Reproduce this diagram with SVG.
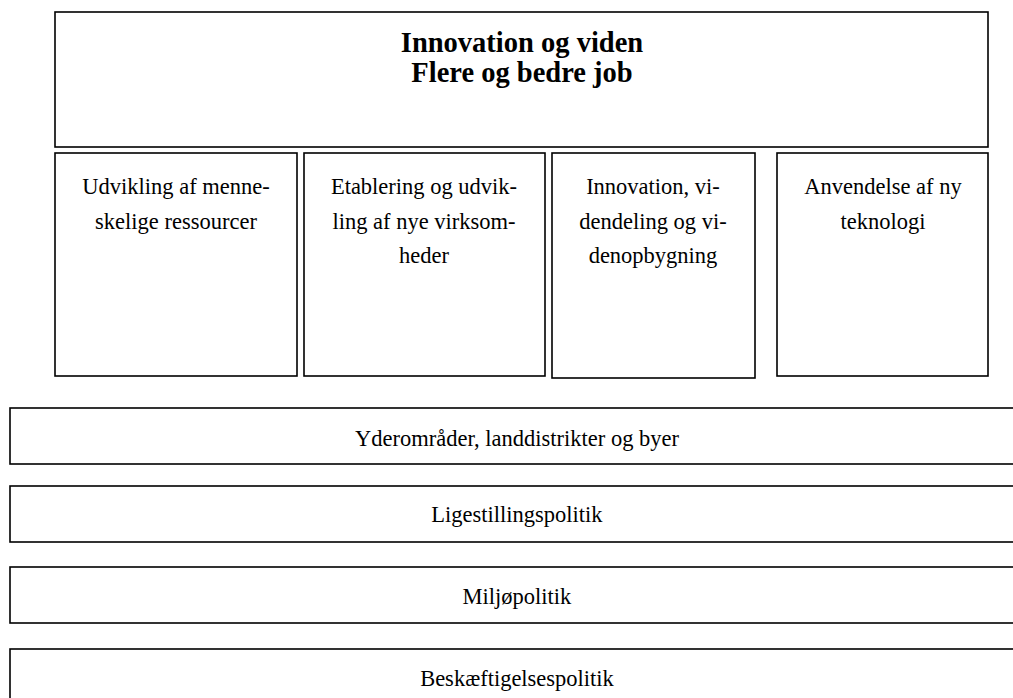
<svg xmlns="http://www.w3.org/2000/svg" width="1013" height="698" viewBox="0 0 1013 698">
<style>
rect{fill:#fff;stroke:#000;stroke-width:1.6}
text{font-family:"Liberation Serif","Times New Roman",serif;fill:#000;text-anchor:middle}
.t{font-size:28.5px;font-weight:bold}
.c{font-size:22.5px}
</style>
<rect x="0" y="0" width="1013" height="698" style="stroke:none"/>
<g id="title">
<rect x="55" y="12" width="933" height="135"/>
<text class="t" x="522" y="52">Innovation og viden</text>
<text class="t" x="522" y="82">Flere og bedre job</text>
</g>
<g id="col1">
<rect x="55" y="153" width="242" height="223"/>
<text class="c" x="176" y="194">Udvikling af menne-</text>
<text class="c" x="176" y="229">skelige ressourcer</text>
</g>
<g id="col2">
<rect x="304" y="153" width="241" height="223"/>
<text class="c" x="424" y="194">Etablering og udvik-</text>
<text class="c" x="424" y="229">ling af nye virksom-</text>
<text class="c" x="424" y="263">heder</text>
</g>
<g id="col3">
<rect x="552" y="153" width="203" height="225"/>
<text class="c" x="653" y="194">Innovation, vi-</text>
<text class="c" x="653" y="229">dendeling og vi-</text>
<text class="c" x="653" y="263">denopbygning</text>
</g>
<g id="col4">
<rect x="777" y="153" width="211" height="223"/>
<text class="c" x="883" y="194">Anvendelse af ny</text>
<text class="c" x="883" y="229">teknologi</text>
</g>
<g id="bar1">
<rect x="10" y="408" width="1020" height="56"/>
<text class="c" x="517" y="446">Yderområder, landdistrikter og byer</text>
</g>
<g id="bar2">
<rect x="10" y="486" width="1020" height="56"/>
<text class="c" x="517" y="522">Ligestillingspolitik</text>
</g>
<g id="bar3">
<rect x="10" y="567" width="1020" height="56"/>
<text class="c" x="517" y="604">Miljøpolitik</text>
</g>
<g id="bar4">
<rect x="10" y="649" width="1020" height="56"/>
<text class="c" x="517" y="686">Beskæftigelsespolitik</text>
</g>
<g id="connectors"></g>
</svg>
